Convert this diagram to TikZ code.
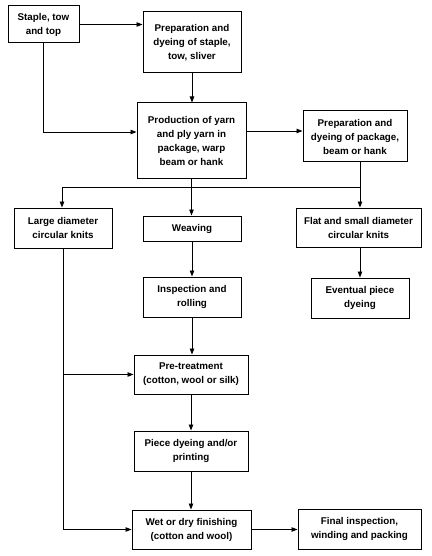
\documentclass[tikz,border=0pt]{standalone}
\usepackage{fontspec}
\setmainfont{Liberation Sans}
\usetikzlibrary{arrows.meta}
\begin{document}
\begin{tikzpicture}[x=1pt,y=-1pt,
  box/.style={draw, line width=1pt, inner sep=0pt, align=center,
    font=\bfseries\fontsize{9.8}{14}\selectfont},
  arr/.style={line width=0.9pt, -{Triangle[length=6pt,width=4.5pt]}},
  ln/.style={line width=0.9pt}]
\useasboundingbox (0,0) rectangle (431,556);
\node[box, minimum width=71pt, minimum height=37pt] (n1) at (43.5,24.5) {Staple, tow\\and top};
\node[box, minimum width=98pt, minimum height=61pt] (n2) at (192,42.5) {Preparation and\\dyeing of staple,\\tow, sliver};
\node[box, minimum width=109pt, minimum height=75pt] (n3) at (191.5,140.5) {Production of yarn\\and ply yarn in\\package, warp\\beam or hank};
\node[box, minimum width=104pt, minimum height=51pt] (n4) at (355,136.5) {Preparation and\\dyeing of package,\\beam or hank};
\node[box, minimum width=98pt, minimum height=40pt] (n5) at (63,228) {Large diameter\\circular knits};
\node[box, minimum width=98pt, minimum height=25pt] (n6) at (192,228.5) {Weaving};
\node[box, minimum width=125pt, minimum height=39pt] (n7) at (358.5,227.5) {Flat and small diameter\\circular knits};
\node[box, minimum width=98pt, minimum height=40pt] (n8) at (360,298) {Eventual piece\\dyeing};
\node[box, minimum width=98pt, minimum height=40pt] (n9) at (192,297) {Inspection and\\rolling};
\node[box, minimum width=114pt, minimum height=39pt] (n10) at (191,374.5) {Pre-treatment\\(cotton, wool or silk)};
\node[box, minimum width=114pt, minimum height=40pt] (n11) at (191,451) {Piece dyeing and/or\\printing};
\node[box, minimum width=119pt, minimum height=39pt] (n12) at (191.5,529.5) {Wet or dry finishing\\(cotton and wool)};
\node[box, minimum width=123pt, minimum height=40pt] (n13) at (359.5,529) {Final inspection,\\winding and packing};
\coordinate (j1) at (43.5,132);
\coordinate (bl) at (62,187);
\coordinate (br) at (360,187);
\draw[arr] (n1.east) -- (n1.east -| n2.west);
\draw[arr] (n2.south) -- (n2.south |- n3.north);
\draw[arr] (n1.south) -- (j1) -- (j1 -| n3.west);
\draw[arr] (n3.east |- 0,131) -- (n4.west |- 0,131);
\draw[arr] (n3.south) -- (n3.south |- n6.north);
\draw[ln] (br |- n4.south) -- (br);
\draw[arr] (br) -- (br |- n7.north);
\draw[ln] (bl) -- (br);
\draw[arr] (bl) -- (bl |- n5.north);
\draw[arr] (n7.south -| br) -- (n8.north -| br);
\draw[arr] (n6.south) -- (n6.south |- n9.north);
\draw[arr] (n9.south) -- (n9.south |- n10.north);
\draw[arr] (n10.south) -- (n10.south |- n11.north);
\draw[arr] (n11.south) -- (n11.south |- n12.north);
\draw[arr] (n5.south) |- (n12.west);
\draw[arr] (n5.south |- n10.west) -- (n10.west);
\draw[arr] (n12.east) -- (n12.east -| n13.west);
\end{tikzpicture}
\end{document}
